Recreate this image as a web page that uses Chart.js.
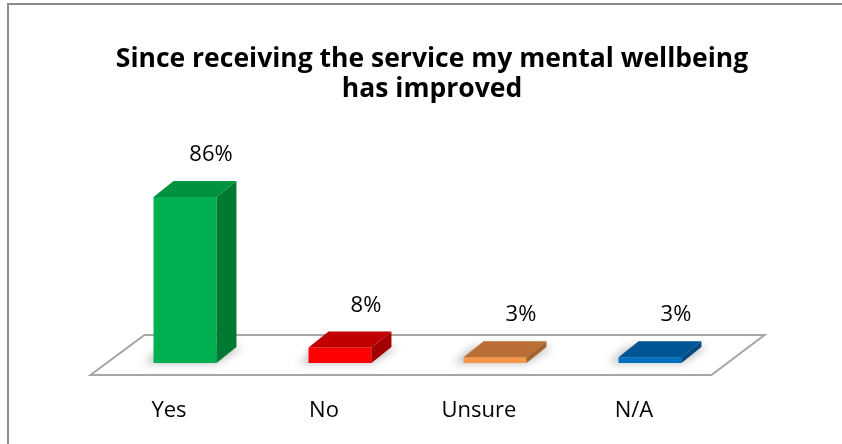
<!DOCTYPE html>
<html>
<head>
<meta charset="utf-8">
<script src="https://cdn.jsdelivr.net/npm/chart.js@4/dist/chart.umd.min.js"></script>
<style>
  html, body { margin: 0; padding: 0; background: #fff; overflow: hidden; }
  #wrap { width: 842px; height: 444px; }
  canvas { display: block; }
</style>
</head>
<body>
<div id="wrap"><canvas id="chart"></canvas></div>
<script>
var labels = ['Yes', 'No', 'Unsure', 'N/A'];
var values = [86, 8, 3, 3];
var titleLines = ['Since receiving the service my mental wellbeing', 'has improved'];

var frontColors = ['#00b050', '#ff0000', '#f79646', '#0070c0'];
var topColors = ['#00923f', '#c00000', '#b96f35', '#005596'];
var sideColors = ['#007a33', '#a30000', '#a5622c', '#004a85'];

var depthX = 20, depthY = 16;

// fake 3d: floor, shadows, top and side faces, value labels
var bars3d = {
    id: 'bars3d',
    beforeDraw: function (chart) {
        // frame, cut off at right and bottom like the source
        var ctx = chart.ctx;
        ctx.save();
        ctx.fillStyle = '#8c8c8c';
        ctx.fillRect(7, 3, 2, chart.height - 3);
        ctx.fillRect(7, 3, chart.width - 7, 2);
        ctx.restore();
    },
    beforeDatasetsDraw: function (chart) {
        var ctx = chart.ctx, a = chart.chartArea;
        ctx.save();
        ctx.beginPath();
        ctx.moveTo(a.left - 17, a.bottom + 12);
        ctx.lineTo(a.right - 16, a.bottom + 12);
        ctx.lineTo(a.right + 37, a.bottom - 28);
        ctx.lineTo(a.left + 37, a.bottom - 28);
        ctx.closePath();
        ctx.fillStyle = '#fff';
        ctx.fill();
        ctx.strokeStyle = '#a6a6a6';
        ctx.lineWidth = 2;
        ctx.stroke();

        ctx.filter = 'blur(4px)';
        ctx.fillStyle = 'rgba(0,0,0,0.28)';
        chart.getDatasetMeta(0).data.forEach(function (el) {
            var l = el.x - el.width / 2 - 10, r = el.x + el.width / 2;
            ctx.beginPath();
            ctx.moveTo(l, el.base);
            ctx.lineTo(r, el.base);
            ctx.lineTo(r + depthX + 6, el.base - depthY);
            ctx.lineTo(l + depthX, el.base - depthY);
            ctx.closePath();
            ctx.fill();
        });
        ctx.restore();
    },
    afterDatasetsDraw: function (chart) {
        var ctx = chart.ctx;
        ctx.save();
        chart.getDatasetMeta(0).data.forEach(function (el, i) {
            var l = el.x - el.width / 2, r = el.x + el.width / 2;
            ctx.fillStyle = sideColors[i];
            ctx.beginPath();
            ctx.moveTo(r, el.y);
            ctx.lineTo(r + depthX, el.y - depthY);
            ctx.lineTo(r + depthX, el.base - depthY);
            ctx.lineTo(r, el.base);
            ctx.closePath();
            ctx.fill();

            ctx.fillStyle = topColors[i];
            ctx.beginPath();
            ctx.moveTo(l, el.y);
            ctx.lineTo(r, el.y);
            ctx.lineTo(r + depthX, el.y - depthY);
            ctx.lineTo(l + depthX, el.y - depthY);
            ctx.closePath();
            ctx.fill();

            ctx.fillStyle = '#000';
            ctx.font = '22px "Open Sans"';
            ctx.textAlign = 'center';
            ctx.textBaseline = 'middle';
            ctx.fillText(values[i] + '%', el.x + 26, el.y - 42);
        });
        ctx.restore();
    }
};

var ctx = document.getElementById('chart').getContext('2d');
var chart = new Chart(ctx, {
    type: 'bar',
    data: {
        labels: labels,
        datasets: [{
            data: values,
            backgroundColor: frontColors,
            borderWidth: 0,
            barPercentage: 0.406,
            categoryPercentage: 1
        }]
    },
    options: {
        responsive: true,
        maintainAspectRatio: false,
        animation: false,
        layout: { padding: { left: 22, right: 0, top: 0, bottom: 20 } },
        plugins: {
            legend: { display: false },
            tooltip: { enabled: false },
            title: {
                display: true,
                text: titleLines,
                color: '#000',
                font: { family: 'Open Sans', size: 26.5, weight: 'bold', lineHeight: 1.15 },
                padding: { top: 44, bottom: 65 }
            }
        },
        scales: {
            x: {
                grid: { display: false, drawTicks: false },
                border: { display: false },
                ticks: {
                    padding: 35,
                    labelOffset: -16,
                    color: '#000',
                    font: { family: 'Open Sans', size: 22 }
                },
                afterFit: function (s) { s.height = 61; }
            },
            y: {
                min: 0,
                max: 100,
                grid: { display: false, drawTicks: false },
                border: { display: false },
                ticks: { display: false },
                afterFit: function (s) { s.width = 85.5; }
            },
            y2: {
                position: 'right',
                min: 0,
                max: 1,
                grid: { display: false, drawTicks: false },
                border: { display: false },
                ticks: { display: false },
                afterFit: function (s) { s.width = 114.5; }
            }
        }
    },
    plugins: [bars3d]
});
</script>
</body>
</html>
